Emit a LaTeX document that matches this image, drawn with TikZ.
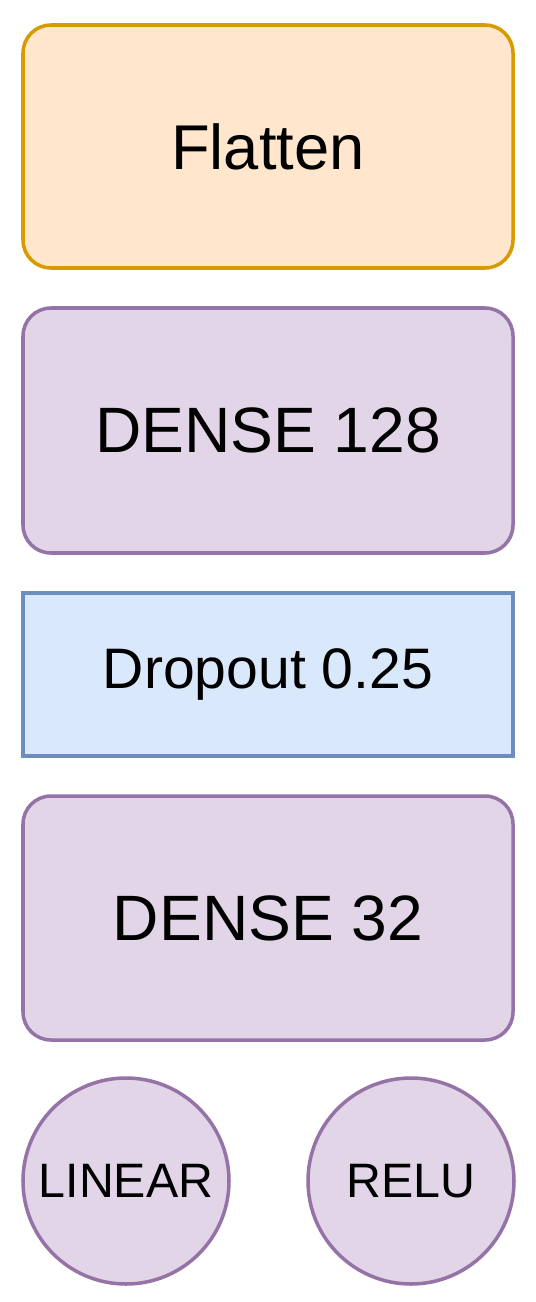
\documentclass[tikz,border=0pt]{standalone}
\usepackage{fontspec}
\setmainfont{Liberation Sans}
\definecolor{flatfill}{HTML}{FFE6CC}
\definecolor{flatline}{HTML}{D79B00}
\definecolor{densefill}{HTML}{E1D5E7}
\definecolor{denseline}{HTML}{9673A6}
\definecolor{dropfill}{HTML}{DAE8FC}
\definecolor{dropline}{HTML}{6C8EBF}
\tikzset{
    layer/.style = {draw, rounded corners = 0.56cm, minimum width = 9.8cm, inner sep = 0pt},
    act/.style = {draw = denseline, fill = densefill, circle, minimum size = 4.12cm, inner sep = 0pt, font = \fontsize{27.5}{30}\selectfont}
}
\begin{document}
\begin{tikzpicture}[scale = 1, line width = 2pt]
        \useasboundingbox (0,0) rectangle (10.7,-26.04);
        \node [layer, draw = flatline, fill = flatfill, minimum height = 4.86cm, font = \fontsize{36}{40}\selectfont] (flatten) at (5.36,-2.93) {Flatten};
        \node [layer, draw = denseline, fill = densefill, minimum height = 4.9cm, font = \fontsize{36.5}{40}\selectfont] (dense128) at (5.36,-8.61) {DENSE 128};
        \node [layer, rounded corners = 0pt, draw = dropline, fill = dropfill, minimum height = 3.26cm, font = \fontsize{32.5}{36}\selectfont] (dropout) at (5.36,-13.49) {Dropout 0.25};
        \node [layer, draw = denseline, fill = densefill, minimum height = 4.88cm, font = \fontsize{36.5}{40}\selectfont] (dense32) at (5.36,-18.36) {DENSE 32};
        \node [act] (linear) at (2.52,-23.62) {LINEAR};
        \node [act] (relu) at (8.22,-23.62) {RELU};
    \end{tikzpicture}
\end{document}
